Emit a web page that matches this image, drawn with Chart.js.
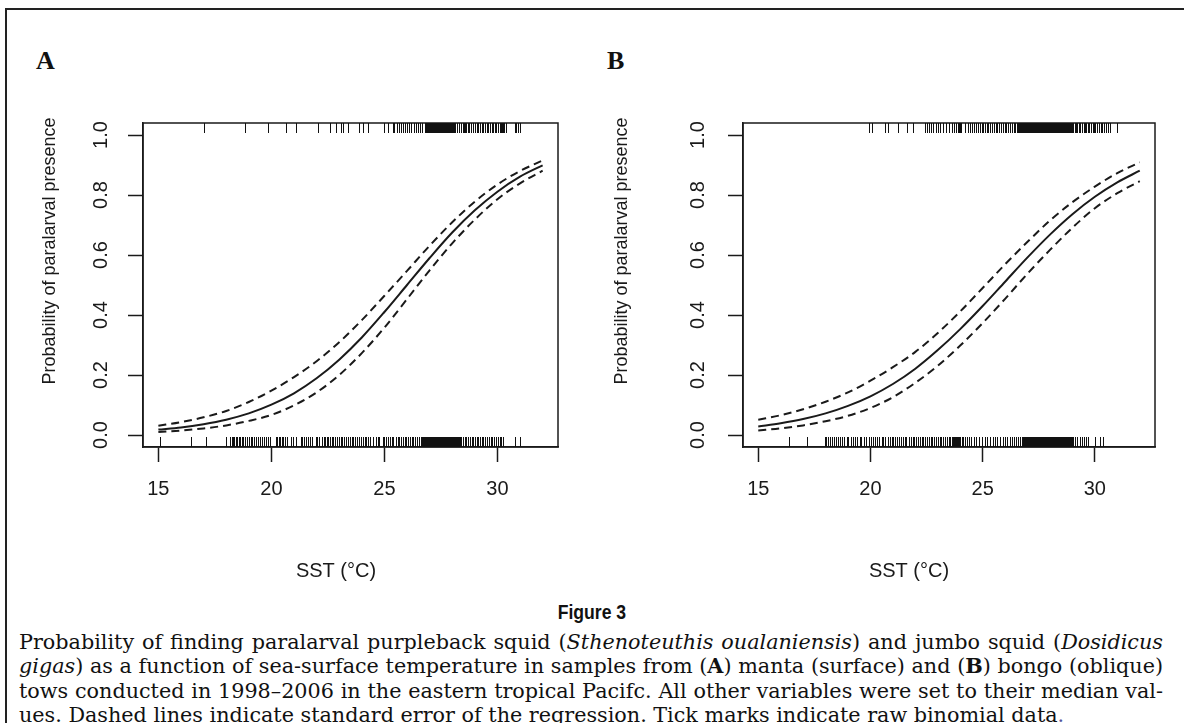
<!DOCTYPE html>
<html>
<head>
<meta charset="utf-8">
<script src="https://cdn.jsdelivr.net/npm/chart.js@4.4.1/dist/chart.umd.min.js"></script>
<style>
  html, body { margin:0; padding:0; background:#fff; }
  body { width:1184px; height:723px; overflow:hidden; position:relative; }
  #frame { position:absolute; left:5px; top:8px; width:1300px; height:900px;
           border-left:2.5px solid #222; border-top:2.5px solid #222; }
  canvas { position:absolute; top:0; }
  .plabel { position:absolute; font-family:"Liberation Serif","Times New Roman",serif; font-weight:bold;
            font-size:26px; line-height:26px; color:#111; }
  #fig { position:absolute; left:0; width:1184px; top:600px; text-align:center;
         font-family:"Liberation Sans",Arial,sans-serif; font-weight:bold; font-size:20px; line-height:24px; color:#111; }
  #fig span { display:inline-block; transform:scaleX(0.88); }
  #cap { position:absolute; left:19px; top:630px; width:1144px;
         font-family:"DejaVu Serif",serif; font-size:17.5px; line-height:24.3px; color:#111; }
  #cap div { white-space:nowrap; }
</style>
</head>
<body>
<div id="frame"></div>
<div class="plabel" style="left:36px;top:48px;">A</div>
<div class="plabel" style="left:607px;top:48px;">B</div>
<canvas id="cA" width="592" height="600" style="left:0px;"></canvas>
<canvas id="cB" width="592" height="600" style="left:592px;"></canvas>
<div id="fig"><span>Figure 3</span></div>
<div id="cap">
  <div class="j">Probability of finding paralarval purpleback squid (<i>Sthenoteuthis oualaniensis</i>) and jumbo squid (<i>Dosidicus</i></div>
  <div class="j"><i>gigas</i>) as a function of sea-surface temperature in samples from (<b>A</b>) manta (surface) and (<b>B</b>) bongo (oblique)</div>
  <div class="j">tows conducted in 1998–2006 in the eastern tropical Pacifc. All other variables were set to their median val-</div>
  <div>ues. Dashed lines indicate standard error of the regression. Tick marks indicate raw binomial data<span style="color:#55559a">.</span></div>
</div>
<script>
// ---------- DATA ----------
const sst = [15,16,17,18,19,20,21,22,23,24,25,26,27,28,29,30,31,32];

const fitA   = [0.018,0.025,0.036,0.051,0.072,0.101,0.139,0.189,0.251,0.325,0.410,0.500,0.590,0.675,0.749,0.811,0.861,0.899];
const upperA = [0.031,0.043,0.059,0.080,0.110,0.148,0.193,0.246,0.309,0.383,0.464,0.547,0.631,0.709,0.778,0.835,0.880,0.915];
const lowerA = [0.010,0.015,0.022,0.032,0.047,0.067,0.099,0.142,0.200,0.273,0.358,0.453,0.549,0.639,0.718,0.786,0.839,0.881];

const fitB   = [0.028,0.039,0.053,0.072,0.097,0.129,0.170,0.221,0.283,0.353,0.430,0.511,0.592,0.668,0.736,0.794,0.842,0.881];
const upperB = [0.051,0.066,0.086,0.111,0.142,0.181,0.226,0.277,0.340,0.412,0.490,0.569,0.644,0.715,0.776,0.828,0.873,0.909];
const lowerB = [0.015,0.022,0.032,0.046,0.064,0.090,0.126,0.174,0.231,0.298,0.373,0.454,0.538,0.617,0.691,0.756,0.806,0.846];

// raw binomial data (SST of samples with presence = 1 / presence = 0)
const presentA = [17.04,18.82,19.86,20.66,21.07,22.07,22.59,22.88,23.10,23.18,23.41,23.86,24.07,24.26,25.00,25.15,
 25.37,25.44,25.55,25.64,25.74,25.81,25.92,26.01,26.08,26.19,26.29,26.38,26.48,26.56,26.68,
 26.80,26.84,26.88,26.93,26.97,27.02,27.06,27.11,27.15,27.20,27.24,27.29,27.33,27.38,27.42,27.47,27.51,27.56,27.60,27.65,
 27.69,27.74,27.78,27.83,27.87,27.92,27.96,28.01,28.05,28.10,28.14,28.19,28.23,28.28,28.32,28.37,28.41,28.46,28.50,28.55,
 28.62,28.70,28.76,28.85,28.93,29.00,29.08,29.14,29.22,29.30,29.37,29.45,29.52,29.58,29.66,29.74,29.80,29.88,29.95,30.02,
 30.10,30.16,30.20,30.25,30.30,30.36,30.78,30.84,30.90,31.00];
const absentA = [15.07,16.45,17.12,18.00,18.18,18.24,18.30,18.36,18.42,18.48,18.55,18.62,18.70,18.76,18.84,18.92,19.00,
 19.10,19.16,19.24,19.34,19.42,19.50,19.58,19.68,19.76,19.86,19.96,
 20.20,20.26,20.32,20.38,20.45,20.52,20.60,20.70,20.85,20.95,21.07,21.30,21.36,21.44,21.52,21.62,21.72,21.81,21.96,22.04,
 22.11,22.26,22.32,22.38,22.44,22.50,22.58,22.66,22.74,22.82,22.90,23.00,
 23.07,23.14,23.22,23.30,23.38,23.46,23.55,23.62,23.70,23.80,23.88,23.96,24.05,24.12,24.20,24.28,24.36,24.48,24.63,24.70,
 24.78,24.93,25.00,25.08,25.16,25.24,25.32,25.40,25.50,25.58,25.66,25.74,25.81,25.89,25.96,26.04,26.12,26.20,26.28,26.36,
 26.44,26.52,26.60,26.66,
 26.70,26.74,26.78,26.82,26.86,26.90,26.94,26.98,27.02,27.06,27.10,27.14,27.18,27.22,27.26,27.30,27.34,27.38,27.42,27.46,
 27.50,27.54,27.58,27.62,27.66,27.70,27.74,27.78,27.82,27.86,27.90,27.94,27.98,28.02,28.06,28.10,28.14,28.18,28.22,28.26,
 28.30,28.33,
 28.40,28.48,28.55,28.62,28.70,28.78,28.86,28.92,29.00,29.08,29.15,29.22,29.30,29.38,29.46,29.54,29.62,29.70,29.78,29.86,
 29.94,30.02,30.10,30.18,30.26,30.78,31.00];
const presentB = [19.95,20.05,20.64,20.79,21.24,21.61,21.88,22.43,22.52,22.60,22.70,22.80,22.92,23.02,23.12,23.25,23.38,
 23.50,23.62,23.72,23.80,23.88,23.95,24.00,24.05,24.20,24.35,24.45,24.52,24.60,24.70,24.80,24.88,24.95,25.02,25.10,25.18,
 25.26,25.34,25.42,25.50,25.58,25.66,25.74,25.82,25.90,25.98,26.06,26.14,26.22,26.30,26.38,26.46,
 26.51,26.55,26.59,26.63,26.67,26.71,26.75,26.79,26.83,26.87,26.91,26.95,26.99,27.03,27.07,27.11,27.15,27.19,27.23,27.27,
 27.31,27.35,27.39,27.43,27.47,27.51,27.55,27.59,27.63,27.67,27.71,27.75,27.79,27.83,27.87,27.91,27.95,27.99,28.03,28.07,
 28.11,28.15,28.19,28.23,28.27,28.31,28.35,28.39,28.43,28.47,28.51,28.55,28.59,28.63,28.67,28.71,28.75,28.79,28.83,28.87,
 28.91,28.95,28.99,29.03,
 29.10,29.16,29.22,29.30,29.36,29.42,29.50,29.56,29.62,29.70,29.76,29.82,29.90,29.96,30.02,30.10,30.18,30.26,30.34,30.42,
 30.50,30.58,30.67,30.98];
const absentB = [16.38,17.15,17.97,18.04,18.12,18.20,18.30,18.38,18.46,18.56,18.66,18.74,18.84,18.94,19.02,19.12,19.22,
 19.30,19.40,19.52,19.60,19.70,19.80,19.92,20.02,20.12,20.22,20.30,20.40,20.50,20.58,20.66,20.76,20.86,20.94,21.02,21.10,
 21.20,21.28,21.36,21.44,21.52,21.60,21.70,21.80,21.88,21.96,22.04,22.12,22.20,22.28,22.36,22.44,22.52,22.60,22.68,22.76,
 22.84,22.92,23.00,23.08,23.16,23.24,23.32,23.40,23.48,23.56,23.64,
 23.69,23.73,23.77,23.81,23.85,23.89,23.93,23.98,
 24.06,24.14,24.22,24.30,24.40,24.50,24.60,24.72,24.84,24.96,25.10,25.20,25.32,25.44,25.54,25.66,25.78,25.90,26.00,26.10,
 26.20,26.30,26.40,26.50,26.58,26.66,26.74,
 26.80,26.84,26.88,26.92,26.96,27.00,27.04,27.08,27.12,27.16,27.20,27.24,27.28,27.32,27.36,27.40,27.44,27.48,27.52,27.56,
 27.60,27.64,27.68,27.72,27.76,27.80,27.84,27.88,27.92,27.96,28.00,28.04,28.08,28.12,28.16,28.20,28.24,28.28,28.32,28.36,
 28.40,28.44,28.48,28.52,28.56,28.60,28.64,28.68,28.72,28.76,28.80,28.84,28.88,28.92,28.96,29.03,
 29.12,29.22,29.32,29.42,29.52,29.62,29.70,30.00,30.22,30.37];

const xTicks = [15,20,25,30];
const yTicks = [0,0.2,0.4,0.6,0.8,1.0];
const yTickLabels = ['0.0','0.2','0.4','0.6','0.8','1.0'];
const xTitle = 'SST (°C)';
const yTitle = 'Probability of paralarval presence';

// ---------- CHART ----------
const FONT = '"Liberation Sans", Arial, Helvetica, sans-serif';
const INK = '#1a1a1a';
Chart.defaults.font.family = FONT;
Chart.defaults.color = INK;

const rStyle = {
  id: 'rStyle',
  afterDraw(chart, args, o) {
    const {ctx, chartArea: a, scales: {x, y}} = chart;
    ctx.save();
    // plot box
    ctx.strokeStyle = INK; ctx.lineWidth = 1.5;
    ctx.strokeRect(a.left, a.top, a.right - a.left, a.bottom - a.top);
    // rug of raw binomial data
    ctx.lineWidth = 1; ctx.strokeStyle = '#111';
    ctx.beginPath();
    o.present.forEach(v => { const p = Math.round(x.getPixelForValue(v)) + 0.5; ctx.moveTo(p, a.top); ctx.lineTo(p, a.top + 10); });
    o.absent.forEach(v => { const p = Math.round(x.getPixelForValue(v)) + 0.5; ctx.moveTo(p, a.bottom); ctx.lineTo(p, a.bottom - 10); });
    ctx.stroke();
    // rotated y tick labels (R style)
    ctx.fillStyle = INK; ctx.font = '20px ' + FONT;
    ctx.textAlign = 'center'; ctx.textBaseline = 'middle';
    y.ticks.forEach((t, i) => {
      const py = y.getPixelForValue(t.value);
      ctx.save(); ctx.translate(a.left - o.yLabGap, py); ctx.rotate(-Math.PI / 2);
      ctx.fillText(yTickLabels[i], 0, 0); ctx.restore();
    });
    // axis titles
    ctx.font = '20px ' + FONT;
    ctx.fillText(x.options.title.text, o.xTitleX, o.xTitleY);
    ctx.font = '18px ' + FONT;
    ctx.save(); ctx.translate(o.yTitleX, o.yTitleY); ctx.rotate(-Math.PI / 2);
    ctx.fillText(y.options.title.text, 0, 0); ctx.restore();
    ctx.restore();
  }
};

function makeChart(id, fit, upper, lower, present, absent, pad, ro) {
  const pts = arr => sst.map((v, i) => ({x: v, y: arr[i]}));
  const line = (arr, dash) => ({
    data: pts(arr), borderColor: INK, borderWidth: 2, borderDash: dash,
    pointRadius: 0, fill: false, cubicInterpolationMode: 'monotone'
  });
  return new Chart(document.getElementById(id), {
    type: 'line',
    data: { datasets: [ line(fit, []), line(upper, [8, 5]), line(lower, [8, 5]) ] },
    options: {
      responsive: false, animation: false, devicePixelRatio: 1,
      layout: { padding: pad },
      plugins: { legend: {display: false}, tooltip: {enabled: false}, rStyle: Object.assign({present, absent}, ro) },
      scales: {
        x: {
          type: 'linear', min: 14.32, max: 32.68,
          afterBuildTicks: s => { s.ticks = xTicks.map(v => ({value: v})); },
          afterFit: s => { s.height = 153; },
          grid: { drawOnChartArea: false, drawTicks: true, tickLength: 15, color: INK, tickWidth: 1.5 },
          border: { display: true, color: INK, width: 1.5 },
          ticks: { font: {size: 20}, color: INK, padding: 15, maxRotation: 0, autoSkip: false },
          title: { display: false, text: xTitle }
        },
        y: {
          type: 'linear', min: -0.04, max: 1.04,
          afterBuildTicks: s => { s.ticks = yTicks.map(v => ({value: v})); },
          afterFit: s => { s.width = pad.yw; },
          grid: { drawOnChartArea: false, drawTicks: true, tickLength: 15, color: INK, tickWidth: 1.5 },
          border: { display: true, color: INK, width: 1.5 },
          ticks: { display: false },
          title: { display: false, text: yTitle }
        }
      }
    },
    plugins: [rStyle]
  });
}

makeChart('cA', fitA, upperA, lowerA, presentA, absentA,
  {left: 0, top: 123, right: 34, bottom: 0, yw: 143},
  {yLabGap: 42, xTitleX: 336, xTitleY: 571, yTitleX: 50, yTitleY: 251});
makeChart('cB', fitB, upperB, lowerB, presentB, absentB,
  {left: 0, top: 123, right: 29, bottom: 0, yw: 151},
  {yLabGap: 45, xTitleX: 317, xTitleY: 571, yTitleX: 30, yTitleY: 251});

// caption: size the font so the first line nearly fills the width, then justify lines 1-3
(function () {
  const cap = document.getElementById('cap');
  const W = 1144;
  const natW = d => { const r = document.createRange(); r.selectNodeContents(d); return r.getBoundingClientRect().width; };
  const lines = cap.querySelectorAll('.j');
  const base = parseFloat(getComputedStyle(cap).fontSize);
  const w0 = natW(lines[0]);
  cap.style.fontSize = (base * (W - 14) / w0).toFixed(2) + 'px';
  lines.forEach(d => {
    const n = (d.textContent.match(/ /g) || []).length;
    const nat = natW(d);
    if (n > 0) d.style.wordSpacing = ((W - nat) / n).toFixed(2) + 'px';
  });
})();
</script>
</body>
</html>
